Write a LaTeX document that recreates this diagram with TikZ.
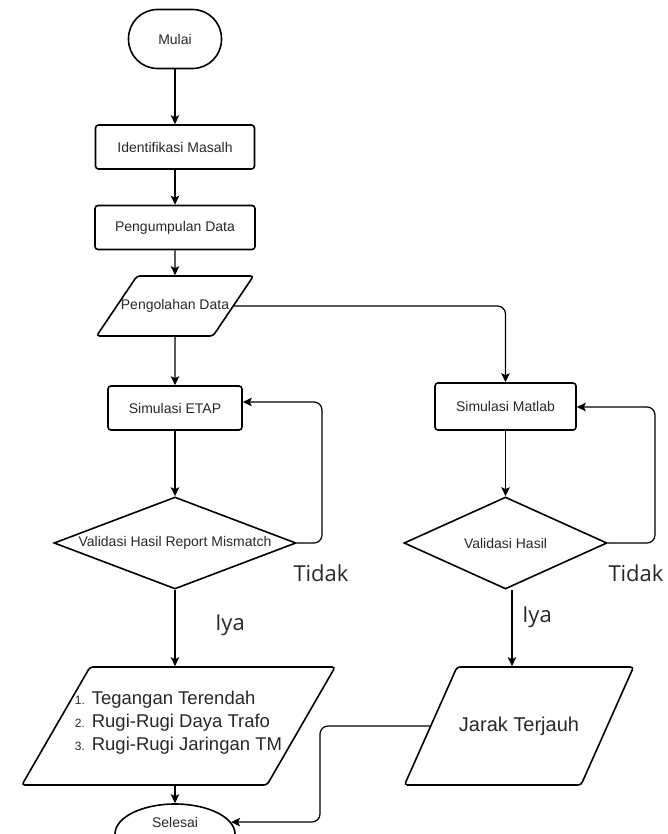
\documentclass[tikz,border=0pt]{standalone}
\usepackage{fontspec}
\setmainfont{Liberation Sans}
\newfontfamily\answerfont{Open Sans}
\usepackage{tikz}
\usetikzlibrary{shapes.geometric, arrows.meta, positioning}
\definecolor{inkgray}{RGB}{40, 40, 40}
\newcommand{\num}[1]{{\fontsize{12}{14}\selectfont #1}}

\begin{document}
\begin{tikzpicture}[x=1pt, y=-1pt,
  base/.style={draw, line width=1.6pt, text=inkgray, font=\fontsize{14}{16}\selectfont, inner sep=2pt},
  process/.style={base, rectangle, rounded corners=3pt, minimum height=44pt},
  terminal/.style={base, rectangle, rounded corners=29pt, minimum width=93pt, minimum height=59pt},
  endpoint/.style={base, ellipse, minimum width=120pt, minimum height=60pt},
  decision/.style={base, diamond, aspect=2.6, inner xsep=-40pt, inner ysep=0pt, minimum height=92pt},
  io/.style={base, trapezium, inner xsep=0pt, rounded corners=3pt},
  flow/.style={line width=1.2pt, -{Stealth[length=9pt, width=8.5pt, inset=2pt]}, rounded corners=8pt},
  answer/.style={text=inkgray, font=\answerfont\fontsize{22}{24}\selectfont}]
\useasboundingbox (0,0) rectangle (667,834);

% left column
\node[terminal] (mulai) at (175,39) {Mulai};
\node[process, minimum width=159pt] (ident) at (175,147) {Identifikasi Masalh};
\node[process, minimum width=160pt] (kumpul) at (175,227.5) {Pengumpulan Data};
\node[io, text height=10pt, text depth=4pt, inner ysep=23pt,
  trapezium left angle=56, trapezium right angle=124] (olah) at (175,306) {\makebox[76pt]{Pengolahan Data}};
\node[process, minimum width=134pt] (etap) at (175,408) {Simulasi ETAP};
\node[decision, minimum width=242pt] (valid1) at (175,543) {Validasi Hasil Report Mismatch};
\node[io, text height=60.5pt, text depth=57.5pt, inner ysep=0pt,
  trapezium left angle=60, trapezium right angle=120, font=\fontsize{18.5}{23}\selectfont] (hasil1) at (178.5,726)
  {\makebox[177pt]{\begin{tabular}{@{}l@{}}\num{1.} Tegangan Terendah\\ \num{2.} Rugi-Rugi Daya Trafo\\ \num{3.} Rugi-Rugi Jaringan TM\end{tabular}}};
\node[endpoint, text height=10pt, text depth=24pt] (selesai) at (175,834) {Selesai};

% right column
\node[process, minimum width=141pt, minimum height=47pt] (matlab) at (505.5,406.5) {Simulasi Matlab};
\node[decision, minimum width=203pt] (valid2) at (505.5,543) {Validasi Hasil};
\node[io, text height=14pt, text depth=4pt, inner ysep=50pt,
  trapezium left angle=66, trapezium right angle=114, font=\fontsize{20}{22}\selectfont] (jarak) at (519,726) {\makebox[124pt]{Jarak Terjauh}};

% answers
\node[answer] (tidak1) at (321,573) {Tidak};
\node[answer] (tidak2) at (636,573) {Tidak};
\node[answer] (iya1) at (230,625) {Iya};
\node[answer] (iya2) at (537,617) {Iya};

% turning points
\coordinate (loop1) at (322,402);
\coordinate (loop2) at (655,407);
\coordinate (back) at (320,822);

% connectors
\draw[flow] (mulai) -- (ident);
\draw[flow] (ident) -- (kumpul);
\draw[flow] (kumpul) -- (olah);
\draw[flow] (olah) -- (etap);
\draw[flow] (olah.east) -| (matlab);
\draw[flow] (etap) -- (valid1);
\draw[flow] (valid1.east) -| (loop1) -- (etap.east |- loop1);
\draw[flow] (matlab) -- (valid2);
\draw[flow] (valid2.east) -| (loop2) -- (matlab.east |- loop2);
\draw[flow] (valid1.south) -- (valid1.south |- hasil1.north);
\draw[flow] ([xshift=6.5pt]valid2.south) -- ([xshift=6.5pt]valid2.south |- jarak.north);
\draw[flow] (hasil1.south -| selesai) -- (selesai);
\draw[flow] (jarak.west) -| (back) -- (selesai.12);
\end{tikzpicture}
\end{document}
